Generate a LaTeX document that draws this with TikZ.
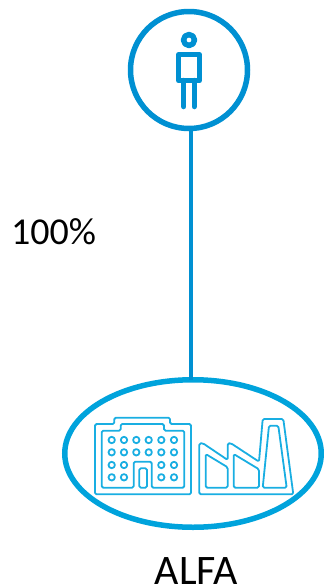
\documentclass[tikz,border=0pt]{standalone}
\usepackage{fontspec}
\setmainfont{Carlito}
\usetikzlibrary{positioning,shapes.geometric}
\definecolor{personblue}{HTML}{0090D2}
\definecolor{alfablue}{HTML}{00A3DC}
\definecolor{iconblue}{HTML}{19AEE2}

\begin{document}
\begin{tikzpicture}[
  x=1pt,y=-1pt,
  ring/.style={draw=personblue,line width=5.5pt,circle,outer sep=0pt,minimum size=117pt},
  oval/.style={draw=alfablue,line width=5.5pt,ellipse,outer sep=0pt,minimum width=256.5pt,minimum height=147.5pt},
  link/.style={draw=personblue,line width=3.7pt},
  figure/.style={draw=personblue,line width=5.5pt,line join=round,line cap=round},
  icon/.style={draw=iconblue,line width=1.8pt,line join=round,rounded corners=1.5pt},
  label/.style={inner sep=0pt,text=black}]
\useasboundingbox (0,0) rectangle (324,587);

% --- owner and company ---
\node[ring] (person) at (189,70) {};
\node[oval] (alfa) at (193,453.5) {};
\draw[link] ([xshift=2pt]person.south) -- ([xshift=-2pt]alfa.north);

% --- labels ---
\node[label,font=\fontsize{38}{42}\selectfont] (share) at (53.5,231.5) {100\%};
\node[label,font=\fontsize{42}{46}\selectfont] (name) at (196.5,571) {ALFA};

% --- person icon ---
\draw[figure] (189,40) circle (5.5);
\draw[figure] (178.7,54.7) rectangle (199.3,80.5);
\draw[figure] (183.7,80.5) -- (183.7,106.5);
\draw[figure] (194.3,80.5) -- (194.3,106.5);

% --- building icon ---
\draw[icon] (95,494.3) -- (95,424) -- (114.3,424) -- (114.3,417.7) -- (170,417.7)
  -- (170,424) -- (191,424) -- (191,494.3) -- cycle;
\draw[icon] (101.7,487.7) -- (101.7,430.7) -- (120.7,430.7) -- (120.7,424) -- (164,424)
  -- (164,430.7) -- (184.3,430.7) -- (184.3,487.7) -- (151.7,487.7) -- (151.7,461.7)
  -- (133.7,461.7) -- (133.7,487.7) -- cycle;
\draw[icon] (139.3,487.7) rectangle (147,468.3);
\foreach \px in {111.7,124,136.3,148.7,161.3,174}
  \foreach \py in {440,452.3}
    \draw[icon] (\px,\py) circle (3.2);
\foreach \px in {111.7,124,161.3,174}
  \foreach \py in {465,477.3}
    \draw[icon] (\px,\py) circle (3.2);

% --- factory icon ---
\draw[icon] (199.3,494.3) -- (199.3,443.3) -- (203,443.3) -- (227.7,460) -- (227.7,443.3)
  -- (231,443.3) -- (259,461.7) -- (262.7,419) -- (283.3,419) -- (293.3,494.3) -- cycle;
\draw[icon] (205.7,487.7) -- (205.7,454) -- (227.7,467.3) -- (227.7,487.7) -- cycle;
\draw[icon] (233.7,487.7) -- (233.7,454) -- (259,469.3) -- (259,487.7) -- cycle;
\draw[icon] (262.7,487.7) -- (269,425.7) -- (278.3,425.7) -- (286.7,487.7) -- cycle;

\end{tikzpicture}
\end{document}
